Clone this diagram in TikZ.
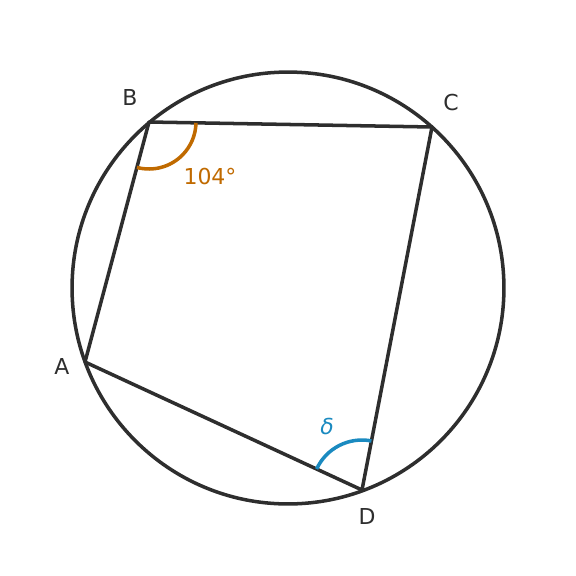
\documentclass[tikz,border=0pt]{standalone}
\usepackage{fontspec}
\setmainfont{DejaVu Sans}
\usetikzlibrary{angles,calc}
\definecolor{ink}{HTML}{2E2E2E}
\definecolor{angA}{HTML}{C06A00}
\definecolor{angB}{HTML}{1A8AC0}
\tikzset{
  edge/.style={draw=ink, line width=2pt, line join=round},
  lbl/.style={text=ink, font=\fontsize{12.5}{14}\selectfont, inner sep=0pt},
  angarc/.style={draw, line width=2pt}
}
\begin{document}
\begin{tikzpicture}[x=0.02cm,y=-0.02cm]
\useasboundingbox (0,0) rectangle (576,576);
\coordinate (O) at (288,288);
\coordinate (A) at (85,362);
\coordinate (B) at (149,122);
\coordinate (C) at (432,127);
\coordinate (D) at (362,490);
\draw[edge] (O) circle[radius=4.32cm];
\draw[edge] (A) -- (B) -- (C) -- (D) -- cycle;
\pic[angarc, draw=angA, angle radius=0.94cm] {angle = A--B--C};
\pic[angarc, draw=angB, angle radius=1.0cm] {angle = C--D--A};
\node[lbl] (lA) at (62,366) {A};
\node[lbl] (lB) at (130,97) {B};
\node[lbl] (lC) at (451,102) {C};
\node[lbl] (lD) at (367,516) {D};
\node[lbl, text=angA] (l104) at (210,176) {104°};
\node[lbl, text=angB] (ldelta) at (327,426) {\itshape δ};
\end{tikzpicture}
\end{document}
